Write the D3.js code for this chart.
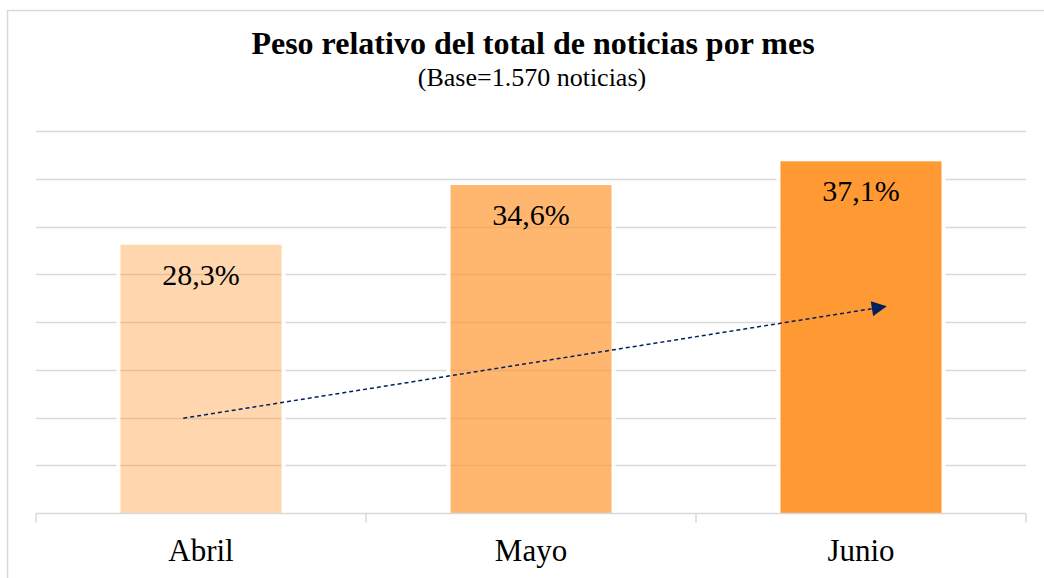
<!DOCTYPE html>
<html>
<head>
<meta charset="utf-8">
<script src="https://cdn.jsdelivr.net/npm/d3@7"></script>
<style>
  html, body { margin: 0; padding: 0; background: #fff; }
  svg text { font-family: "Liberation Serif", "Times New Roman", serif; }
</style>
</head>
<body>
<div id="chart"></div>
<script>
var months = ["Abril", "Mayo", "Junio"];
var shares = [28.3, 34.6, 37.1];
var shareLabels = ["28,3%", "34,6%", "37,1%"];
// trend arrow drawn by hand in the original, endpoints read in data units
var arrowMonths = ["Abril", "Junio"];
var arrowValues = [10, 21.8];

var width = 1044, height = 578;
var margin = {top: 131, right: 18, bottom: 65, left: 36};

var barColor = "#ff9933",
    barOpacity = [0.4, 0.7, 1];

var svg = d3.select("#chart")
            .append("svg")
            .attr("width", width)
            .attr("height", height);

// chart area border
svg.append("rect")
   .attr("x", 7.5).attr("y", 10.5)
   .attr("width", width + 20).attr("height", height + 20)
   .attr("fill", "none")
   .attr("stroke", "#d9d9d9")
   .attr("stroke-width", 1.5);

var x = d3.scaleBand()
          .domain(months)
          .range([margin.left, width - margin.right])
          .paddingInner(0.512)
          .paddingOuter(0.256);

var y = d3.scaleLinear()
          .domain([0, 40.3])
          .range([height - margin.bottom, margin.top]);

var gridVals = d3.range(1, 9).map(function(i) { return i * 40.3 / 8; });

svg.append("g")
   .selectAll("line")
   .data(gridVals)
   .enter()
   .append("line")
   .attr("x1", margin.left).attr("x2", width - margin.right)
   .attr("y1", d => Math.round(y(d)) + 0.5)
   .attr("y2", d => Math.round(y(d)) + 0.5)
   .attr("stroke", "#d9d9d9")
   .attr("stroke-width", 1.5);

var data = months.map(function(m, i) {
  return {month: m, value: shares[i], label: shareLabels[i], op: barOpacity[i]};
});

// white gap round each bar
svg.append("g")
   .selectAll("rect")
   .data(data)
   .enter()
   .append("rect")
   .attr("x", d => x(d.month) - 2)
   .attr("y", d => y(d.value) - 2)
   .attr("width", x.bandwidth() + 4)
   .attr("height", d => y(0) - y(d.value) + 2)
   .attr("fill", "none")
   .attr("stroke", "#fff")
   .attr("stroke-width", 4);

svg.append("g")
   .selectAll("rect")
   .data(data)
   .enter()
   .append("rect")
   .attr("x", d => x(d.month))
   .attr("y", d => y(d.value))
   .attr("width", x.bandwidth())
   .attr("height", d => y(0) - y(d.value))
   .attr("fill", barColor)
   .attr("fill-opacity", d => d.op);

svg.append("g")
   .selectAll("text")
   .data(data)
   .enter()
   .append("text")
   .attr("x", d => x(d.month) + x.bandwidth() / 2)
   .attr("y", d => y(d.value) + 40)
   .attr("text-anchor", "middle")
   .attr("font-family", "Liberation Serif, serif")
   .attr("font-size", 30)
   .attr("fill", "#000")
   .text(d => d.label);

// x axis
var xAxis = svg.append("g")
   .attr("transform", "translate(0," + (y(0) + 0.5) + ")");

xAxis.append("line")
   .attr("x1", margin.left).attr("x2", width - margin.right)
   .attr("stroke", "#d9d9d9").attr("stroke-width", 1.5);

var tickX = months.map(m => x(m) - x.step() * x.paddingInner() / 2)
                  .concat([width - margin.right]);

xAxis.selectAll(".tk")
   .data(tickX)
   .enter()
   .append("line")
   .attr("x1", d => d).attr("x2", d => d)
   .attr("y1", 0).attr("y2", 9)
   .attr("stroke", "#d9d9d9").attr("stroke-width", 1.5);

xAxis.selectAll("text")
   .data(months)
   .enter()
   .append("text")
   .attr("x", d => x(d) + x.bandwidth() / 2)
   .attr("y", 47)
   .attr("text-anchor", "middle")
   .attr("font-family", "Liberation Serif, serif")
   .attr("font-size", 31)
   .attr("fill", "#000")
   .text(d => d);

// trend arrow
svg.append("defs")
   .append("marker")
   .attr("id", "head")
   .attr("viewBox", "0 0 10 10")
   .attr("refX", 10).attr("refY", 5)
   .attr("markerUnits", "userSpaceOnUse")
   .attr("markerWidth", 18).attr("markerHeight", 15)
   .attr("orient", "auto")
   .append("path")
   .attr("d", "M0,0L10,5L0,10Z")
   .attr("fill", "#002060");

svg.append("line")
   .attr("x1", x(arrowMonths[0]) + x.bandwidth() * 0.39)
   .attr("y1", y(arrowValues[0]))
   .attr("x2", x(arrowMonths[1]) + x.bandwidth() * 0.66)
   .attr("y2", y(arrowValues[1]))
   .attr("stroke", "#002060")
   .attr("stroke-width", 1.5)
   .attr("stroke-dasharray", "4,3")
   .attr("marker-end", "url(#head)");

// titles
svg.append("text")
   .attr("x", 533).attr("y", 54)
   .attr("text-anchor", "middle")
   .attr("font-family", "Liberation Serif, serif")
   .attr("font-size", 32)
   .attr("font-weight", "bold")
   .text("Peso relativo del total de noticias por mes");

svg.append("text")
   .attr("x", 532).attr("y", 86)
   .attr("text-anchor", "middle")
   .attr("font-family", "Liberation Serif, serif")
   .attr("font-size", 26)
   .text("(Base=1.570 noticias)");
</script>
</body>
</html>
